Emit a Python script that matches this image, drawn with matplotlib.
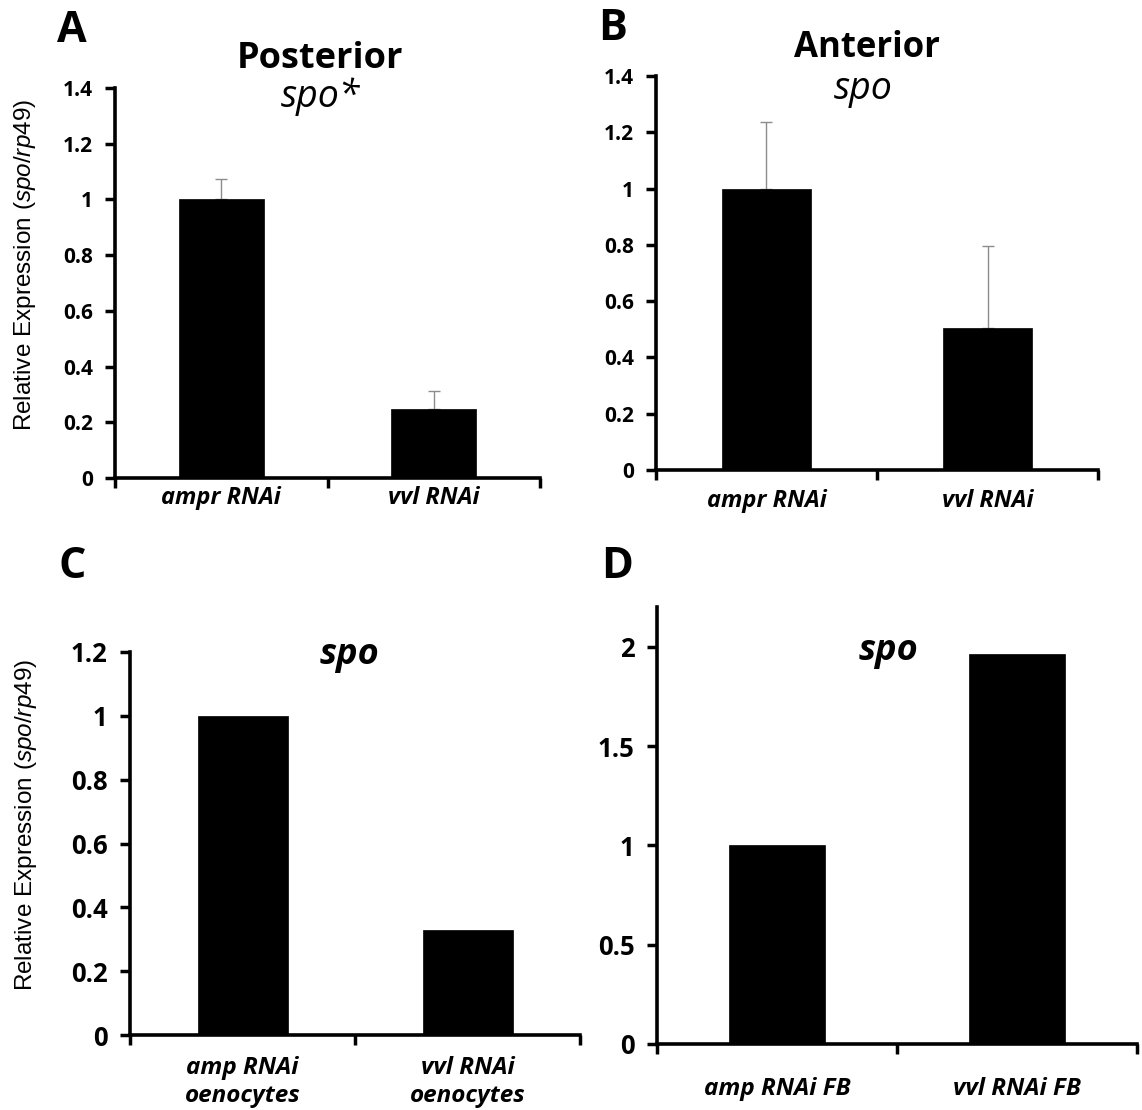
import matplotlib
matplotlib.use("Agg")
import matplotlib.pyplot as plt

W, H = 1142, 1110

# panel A - posterior spo
a_labels = ["ampr RNAi", "vvl RNAi"]
a_values = [1.0, 0.249]
a_err = [0.074, 0.064]
a_yticks = [0, 0.2, 0.4, 0.6, 0.8, 1, 1.2, 1.4]

# panel B - anterior spo
b_labels = ["ampr RNAi", "vvl RNAi"]
b_values = [1.0, 0.504]
b_err = [0.238, 0.291]
b_yticks = [0, 0.2, 0.4, 0.6, 0.8, 1, 1.2, 1.4]

# panel C - oenocytes
c_labels = ["amp RNAi\noenocytes", "vvl RNAi\noenocytes"]
c_values = [1.0, 0.328]
c_yticks = [0, 0.2, 0.4, 0.6, 0.8, 1, 1.2]

# panel D - fat body
d_labels = ["amp RNAi FB", "vvl RNAi FB"]
d_values = [1.0, 1.964]
d_yticks = [0, 0.5, 1, 1.5, 2]

plt.rcParams["mathtext.fontset"] = "custom"
plt.rcParams["mathtext.rm"] = "Liberation Sans"
plt.rcParams["mathtext.it"] = "Liberation Sans:italic"

BOLD = ["Open Sans", "DejaVu Sans"]
NARROW = ["Liberation Sans", "DejaVu Sans"]
YLABEL = r"Relative Expression ($\mathit{spo/rp49}$)"

fig = plt.figure(figsize=(W / 100, H / 100), dpi=100)


def px_axes(left, right, top, bottom):
    return fig.add_axes([left / W, 1 - bottom / H, (right - left) / W, (bottom - top) / H])


def panel(ax, labels, values, yticks, ymax, tick_fs, xlab_fs, xpad, err=None, lsp=1.0):
    x = range(len(values))
    ax.bar(x, values, width=0.4, color="black", edgecolor="black", linewidth=0.5, zorder=2)
    if err is not None:
        ax.errorbar(x, values, yerr=[[0] * len(err), err], fmt="none", ecolor="#8c8c8c",
                    elinewidth=1.0, capsize=4, capthick=1.0, zorder=1)
    ax.set_xlim(-0.5, len(values) - 0.5)
    ax.set_ylim(0, ymax)
    ax.set_yticks(yticks)
    ax.set_yticklabels([f"{t:g}" for t in yticks], fontfamily=BOLD, fontweight="bold",
                       fontsize=tick_fs)
    ax.set_xticks(list(x))
    ax.set_xticklabels(labels, fontfamily=BOLD, fontweight="bold", fontstyle="italic",
                       fontsize=xlab_fs, linespacing=lsp)
    ax.set_xticks([-0.5, 0.5, len(values) - 0.5], minor=True)
    ax.tick_params(axis="x", which="major", length=0, pad=xpad)
    ax.tick_params(axis="x", which="minor", length=7, width=2.5, direction="out")
    ax.tick_params(axis="y", length=7, width=2.5, direction="out", pad=9)
    for s in ("top", "right"):
        ax.spines[s].set_visible(False)
    for s in ("left", "bottom"):
        ax.spines[s].set_linewidth(2.6)
    ax.set_facecolor("none")


axA = px_axes(115, 540, 88, 478)
panel(axA, a_labels, a_values, a_yticks, 1.4, 15, 17, 6, a_err)
axA.set_ylabel(YLABEL, fontfamily=NARROW, fontsize=17.5)
axA.yaxis.set_label_coords(-0.18, 0.545)

axB = px_axes(656, 1098, 76, 470)
panel(axB, b_labels, b_values, b_yticks, 1.4, 15, 17, 14, b_err)

axC = px_axes(130, 580, 652, 1035)
panel(axC, c_labels, c_values, c_yticks, 1.2, 18.5, 17.5, 15, lsp=1.25)
axC.set_ylabel(YLABEL, fontfamily=NARROW, fontsize=17.5)
axC.yaxis.set_label_coords(-0.202, 0.548)

axD = px_axes(657, 1137, 607, 1044)
panel(axD, d_labels, d_values, d_yticks, 2.2, 18.5, 17.5, 24)


def ftext(x, y, s, **kw):
    fig.text(x / W, 1 - y / H, s, ha="center", va="center", **kw)


# titles
ftext(320, 59, "Posterior", fontfamily=BOLD, fontweight="bold", fontsize=26)
ftext(321, 97, "spo*", fontfamily=BOLD, fontstyle="italic", fontsize=27)
ftext(867, 48, "Anterior", fontfamily=BOLD, fontweight="bold", fontsize=25)
ftext(863, 89, "spo", fontfamily=BOLD, fontstyle="italic", fontsize=27)
ftext(349, 655, "spo", fontfamily=BOLD, fontweight="bold", fontstyle="italic", fontsize=26)
ftext(888, 651, "spo", fontfamily=BOLD, fontweight="bold", fontstyle="italic", fontsize=26)

# panel letters
ftext(72, 30, "A", fontfamily=BOLD, fontweight="bold", fontsize=31)
ftext(613, 29, "B", fontfamily=BOLD, fontweight="bold", fontsize=31)
ftext(72, 566, "C", fontfamily=BOLD, fontweight="bold", fontsize=31)
ftext(617, 566, "D", fontfamily=BOLD, fontweight="bold", fontsize=31)

fig.savefig("out.png", dpi=100, facecolor="white")
